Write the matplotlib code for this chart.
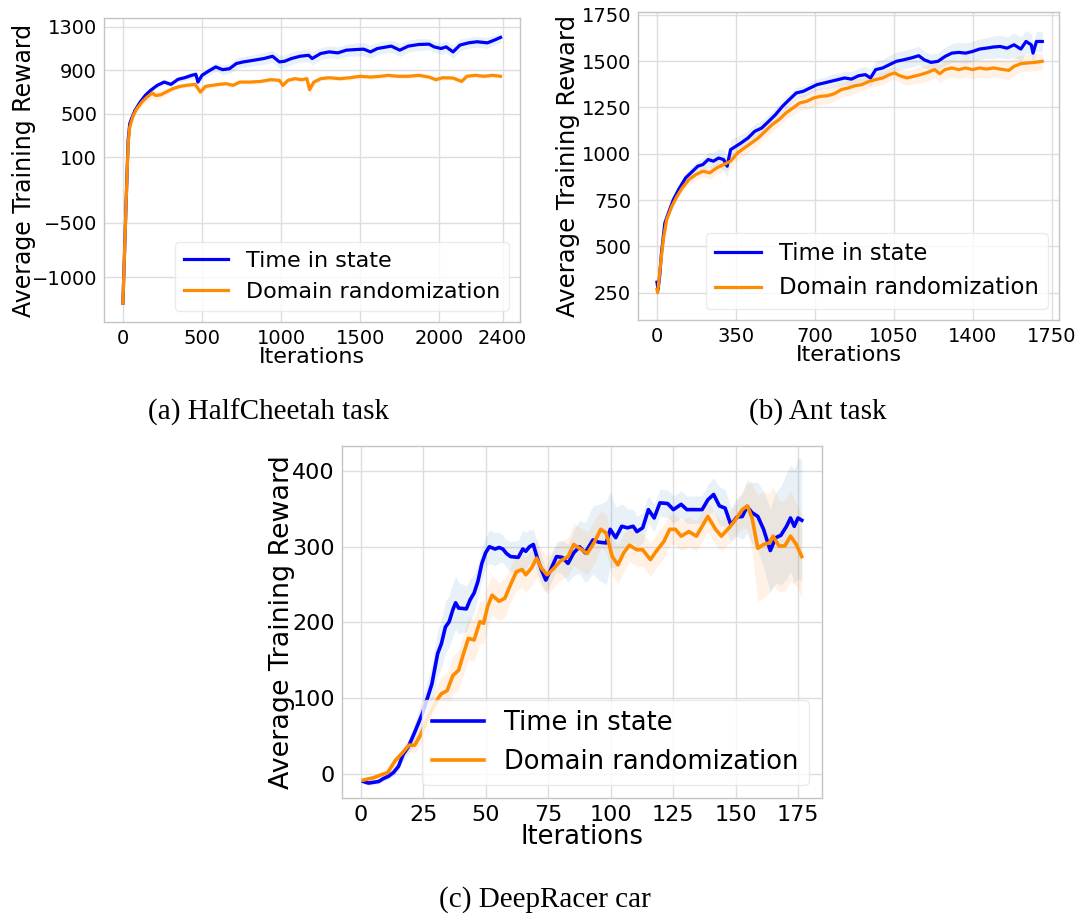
import numpy as np
import matplotlib
matplotlib.use('Agg')
from matplotlib import pyplot as plt

# (a) HalfCheetah
cheetah_tis_x = [0, 10, 20, 33, 43, 54, 76, 109, 141, 174, 217, 261, 304, 348, 391, 435, 461, 474, 500,
                 543, 587, 630, 674, 717, 761, 826, 891, 946, 989, 1022, 1065, 1120, 1174, 1196, 1250,
                 1304, 1359, 1413, 1478, 1522, 1565, 1609, 1696, 1750, 1804, 1870, 1935, 1967, 2011,
                 2043, 2087, 2130, 2185, 2239, 2304, 2348, 2387]
cheetah_tis_y = [-1238, -790, -330, 254, 408, 454, 531, 608, 669, 715, 762, 792, 771, 817, 832, 854, 863,
                 792, 854, 894, 931, 906, 915, 962, 977, 992, 1008, 1029, 977, 983, 1008, 1029, 1038,
                 1008, 1054, 1069, 1060, 1085, 1091, 1094, 1069, 1100, 1122, 1085, 1122, 1137, 1140,
                 1115, 1100, 1115, 1069, 1131, 1152, 1162, 1152, 1177, 1202]
cheetah_tis_sd = [10, 10, 10, 10, 10, 10, 15, 15, 20, 20, 20, 25, 25, 25, 30, 30, 30, 35, 35,
                  40, 40, 45, 45, 50, 50, 50, 55, 55, 60, 60, 55, 55, 60, 60, 55,
                  55, 55, 55, 60, 60, 60, 55, 55, 60, 55, 55, 50, 50, 55,
                  55, 60, 55, 50, 50, 50, 45, 40]
cheetah_dr_x = [0, 10, 20, 33, 43, 65, 87, 120, 152, 185, 207, 239, 272, 315, 359, 402, 457, 489, 522,
                565, 609, 652, 696, 739, 804, 870, 935, 989, 1011, 1043, 1087, 1130, 1163, 1180, 1207,
                1250, 1304, 1370, 1435, 1500, 1565, 1630, 1674, 1739, 1804, 1870, 1935, 1978, 2022,
                2087, 2141, 2174, 2228, 2283, 2337, 2387]
cheetah_dr_y = [-1238, -790, -330, 223, 377, 485, 546, 608, 654, 691, 669, 675, 700, 731, 752, 762, 771,
                700, 752, 762, 771, 777, 762, 792, 792, 798, 814, 808, 762, 808, 823, 814, 823, 722,
                792, 823, 832, 823, 832, 845, 838, 845, 854, 845, 845, 854, 838, 814, 832, 829, 798,
                845, 854, 845, 854, 845]
cheetah_dr_sd = [10, 10, 10, 10, 15, 20, 30, 40, 45, 45, 40, 35, 30, 25, 20, 20, 20, 40, 25,
                 20, 20, 20, 20, 20, 20, 20, 20, 20, 35, 20, 20, 20, 25, 70, 30,
                 20, 20, 20, 20, 20, 20, 20, 20, 20, 20, 20, 20, 25, 20,
                 20, 25, 20, 20, 20, 20, 20]

# (b) Ant
ant_tis_x = [0, 5, 12, 20, 35, 51, 73, 96, 127, 158, 181, 204, 227, 250, 273, 295, 311, 326, 349, 372,
             403, 433, 464, 495, 525, 556, 586, 617, 648, 678, 709, 740, 770, 801, 831, 862, 893, 923,
             946, 969, 1000, 1030, 1061, 1092, 1123, 1160, 1184, 1214, 1245, 1276, 1306, 1337, 1367,
             1398, 1429, 1459, 1490, 1520, 1551, 1582, 1612, 1635, 1658, 1666, 1681, 1707]
ant_tis_y = [307, 268, 340, 466, 627, 681, 753, 807, 870, 906, 933, 942, 969, 960, 977, 969, 933, 1022,
             1040, 1058, 1085, 1121, 1139, 1175, 1211, 1256, 1292, 1328, 1337, 1355, 1373, 1382, 1391,
             1400, 1409, 1403, 1421, 1427, 1409, 1454, 1463, 1481, 1499, 1507, 1516, 1529, 1507, 1493,
             1499, 1525, 1543, 1547, 1543, 1552, 1565, 1570, 1576, 1579, 1570, 1588, 1565, 1606, 1588,
             1543, 1606, 1606]
ant_tis_sd = [15, 15, 20, 20, 20, 20, 20, 25, 25, 30, 30, 35, 40, 45, 50, 55, 60, 55, 50, 45,
              40, 40, 40, 35, 35, 35, 30, 30, 30, 30, 30, 30, 35, 35, 35, 40, 40, 45,
              45, 45, 45, 50, 50, 50, 50, 50, 45, 45, 45, 50, 50, 55, 55,
              55, 55, 55, 60, 60, 60, 65, 65, 60, 60, 60, 55, 55]
ant_dr_x = [0, 3, 12, 28, 43, 66, 89, 112, 142, 173, 204, 234, 265, 296, 326, 357, 387, 418, 449, 479,
            510, 541, 571, 602, 632, 663, 694, 724, 755, 786, 816, 847, 877, 908, 939, 969, 1000, 1030,
            1053, 1076, 1107, 1138, 1168, 1199, 1230, 1253, 1276, 1306, 1337, 1367, 1398, 1429, 1459,
            1490, 1520, 1559, 1582, 1612, 1643, 1673, 1707]
ant_dr_y = [268, 250, 358, 537, 645, 717, 771, 816, 861, 888, 906, 897, 924, 942, 960, 1004, 1031, 1058,
            1085, 1121, 1157, 1184, 1220, 1247, 1274, 1283, 1301, 1310, 1313, 1324, 1346, 1355, 1367,
            1373, 1391, 1400, 1409, 1427, 1436, 1421, 1409, 1418, 1427, 1439, 1454, 1432, 1454, 1463,
            1454, 1463, 1454, 1463, 1457, 1463, 1457, 1450, 1472, 1486, 1490, 1493, 1499]
ant_dr_sd = [15, 15, 20, 20, 20, 20, 20, 25, 25, 30, 30, 35, 35, 35, 40, 40, 40, 40, 35, 35,
             35, 35, 35, 40, 40, 45, 45, 45, 45, 40, 40, 40, 40, 35, 35, 35, 35, 35,
             35, 35, 40, 40, 45, 45, 45, 50, 50, 50, 50, 50, 50, 50, 50,
             50, 50, 50, 50, 45, 45, 45, 45]

# (c) DeepRacer
racer_tis_x = [1, 3, 5, 7, 9, 11, 13, 15, 16.9, 19, 21.5, 24.6, 26.4, 28.4, 30.7, 32.2, 33.8, 35.3, 36.8,
               37.9, 39.1, 42.2, 43.7, 45.3, 46.8, 48.4, 49.9, 51.4, 53.7, 55.3, 56.8, 58.3, 59.9, 63,
               64.8, 66, 67.5, 69, 70.6, 72.2, 74, 76, 78.3, 80.6, 82.9, 85.2, 87.5, 89.8, 92.9, 95.2,
               98.2, 99.8, 102, 104.4, 106.7, 109, 110.5, 112.8, 115.1, 117.4, 119.7, 122.8, 125.1,
               128.2, 130.5, 133.6, 136.6, 138.9, 141.2, 143.5, 145.8, 148.1, 150.5, 152.7, 154.6,
               156.6, 158.9, 161.2, 163.9, 166.1, 168.1, 170.4, 172, 173.5, 175, 176.5]
racer_tis_y = [-10, -12, -11, -10, -6, -3, 2, 10, 26, 36, 55, 80, 98, 119, 159, 172, 194, 201, 217,
               226, 219, 218, 230, 239, 254, 278, 292, 300, 297, 299, 297, 291, 287, 286,
               297, 294, 300, 303, 285, 270, 256, 270, 287, 286, 278, 292, 300, 292, 309, 306,
               305, 323, 312, 327, 325, 327, 320, 325, 349, 338, 358, 357, 349,
               356, 349, 349, 349, 362, 369, 354, 351, 329, 339, 340, 353,
               345, 340, 323, 295, 312, 315, 327, 338, 327, 338, 335]
racer_tis_sd = [3, 3, 3, 3, 4, 4, 5, 6, 8, 10, 14, 18, 22, 26, 30, 32, 34, 34, 35,
                35, 34, 30, 28, 25, 22, 20, 20, 22, 22, 20, 18, 18, 20, 22,
                25, 25, 22, 20, 20, 18, 16, 18, 20, 22, 25, 30, 35, 40, 45, 50,
                55, 50, 40, 30, 25, 22, 20, 20, 18, 18, 18, 18, 18,
                18, 18, 18, 18, 20, 22, 25, 25, 22, 25, 30, 35,
                40, 45, 50, 55, 60, 65, 70, 70, 75, 80, 80]
racer_dr_x = [1, 5, 9, 10.7, 13.8, 16.9, 19.2, 21.5, 23.8, 26.4, 28.5, 30.7, 32.2, 34.5, 36.8, 39.1, 40.7,
              43, 45.3, 47.6, 49.1, 50.7, 52.5, 55.3, 57.6, 59.9, 62.2, 64.5, 66, 68.3, 70.3, 72.2, 74.5,
              76.8, 79.8, 82.9, 85.2, 87.5, 90.6, 93.6, 96, 98.2, 100.6, 102.9, 105.2, 107.5, 110.5,
              112.8, 115.9, 118.2, 121.3, 123.6, 125.9, 128.2, 131.3, 134.3, 136.6, 138.9, 142, 144.3,
              147.4, 150.5, 152.7, 154.7, 156.6, 158.9, 161.2, 163.5, 165, 167.4, 169.7, 172, 174.3,
              176.5]
racer_dr_y = [-8, -5, 0, 2, 18, 29, 38, 38, 51, 71, 85, 99, 106, 110, 130, 137, 155,
              179, 177, 201, 199, 221, 236, 228, 232, 250, 267, 270, 263, 272, 285, 272, 263,
              270, 281, 287, 303, 298, 291, 307, 323, 318, 287, 276, 292, 302, 296,
              296, 283, 294, 307, 323, 323, 314, 320, 314, 327, 340, 323, 314,
              325, 338, 349, 354, 338, 298, 303, 305, 314, 301, 301, 314, 303,
              287]
racer_dr_sd = [3, 3, 3, 4, 5, 6, 8, 10, 12, 15, 18, 20, 22, 24, 25, 26, 27,
               28, 28, 28, 28, 27, 26, 25, 25, 24, 24, 24, 24, 24, 25, 25, 25,
               25, 25, 25, 28, 28, 28, 28, 25, 25, 25, 25, 25, 22, 22,
               22, 22, 22, 22, 20, 20, 20, 20, 20, 20, 20, 20, 20,
               20, 20, 25, 30, 45, 70, 70, 65, 65, 60, 60, 60, 55,
               55]

labels = ['Time in state', 'Domain randomization']
line_colors = ['#0000ff', '#ff8c00']
band_colors = ['#1f77b4', '#ff7f0e']

W, H = 1081, 917
fig = plt.figure(figsize=(W / 100, H / 100), dpi=100)


def box(l, t, r, b):
    return [l / W, (H - b) / H, (r - l) / W, (b - t) / H]


def panel(rect, series, xlim, ylim, xticks, yticks, tick_fs, xlab_fs, ylab_fs, leg_fs, lw, ypad):
    ax = fig.add_axes(rect)
    for (x, y, sd), lc, bc, lab in zip(series, line_colors, band_colors, labels):
        x = np.array(x, dtype=float)
        y = np.array(y, dtype=float)
        sd = np.array(sd, dtype=float)
        ax.fill_between(x, y - sd, y + sd, color=bc, alpha=0.1, lw=0)
        ax.plot(x, y, color=lc, lw=lw, label=lab)
    ax.set_xlim(*xlim)
    ax.set_ylim(*ylim)
    ax.set_xticks(xticks)
    ax.set_yticks(yticks)
    ax.grid(True, color='#dedede', lw=1)
    ax.set_axisbelow(True)
    for s in ax.spines.values():
        s.set_color('#c4c4c4')
        s.set_linewidth(1)
    ax.tick_params(length=0, labelsize=tick_fs, pad=5)
    ax.set_xlabel('Iterations', fontsize=xlab_fs, labelpad=-1)
    ax.set_ylabel('Average Training Reward', fontsize=ylab_fs, labelpad=ypad)
    leg = ax.legend(loc='lower right', fontsize=leg_fs, frameon=True, fancybox=True, framealpha=0.8)
    leg.get_frame().set_edgecolor('#e6e6e6')
    return ax


panel(box(104, 18, 520, 322),
      [(cheetah_tis_x, cheetah_tis_y, cheetah_tis_sd), (cheetah_dr_x, cheetah_dr_y, cheetah_dr_sd)],
      (-119.5, 2510), (-1410, 1380), [0, 500, 1000, 1500, 2000, 2400],
      [-1000, -500, 100, 500, 900, 1300], 14, 16, 17, 16, 2.3, -3)

panel(box(638, 12, 1059, 320),
      [(ant_tis_x, ant_tis_y, ant_tis_sd), (ant_dr_x, ant_dr_y, ant_dr_sd)],
      (-84, 1781), (103, 1765), [0, 350, 700, 1050, 1400, 1750],
      [250, 500, 750, 1000, 1250, 1500, 1750], 14, 16, 17.5, 16.4, 2.3, 1)

panel(box(342, 446, 822, 798),
      [(racer_tis_x, racer_tis_y, racer_tis_sd), (racer_dr_x, racer_dr_y, racer_dr_sd)],
      (-7.6, 184.6), (-31.7, 433), [0, 25, 50, 75, 100, 125, 150, 175],
      [0, 100, 200, 300, 400], 16, 18.5, 19.4, 18.5, 2.6, -2)

cap = dict(family='Liberation Serif', fontsize=21, ha='center', va='center')
fig.text(268 / W, 1 - 412 / H, '(a) HalfCheetah task', **cap)
fig.text(818 / W, 1 - 412 / H, '(b) Ant task', **cap)
fig.text(545 / W, 1 - 900 / H, '(c) DeepRacer car', **cap)

fig.savefig('out.png', dpi=100)
